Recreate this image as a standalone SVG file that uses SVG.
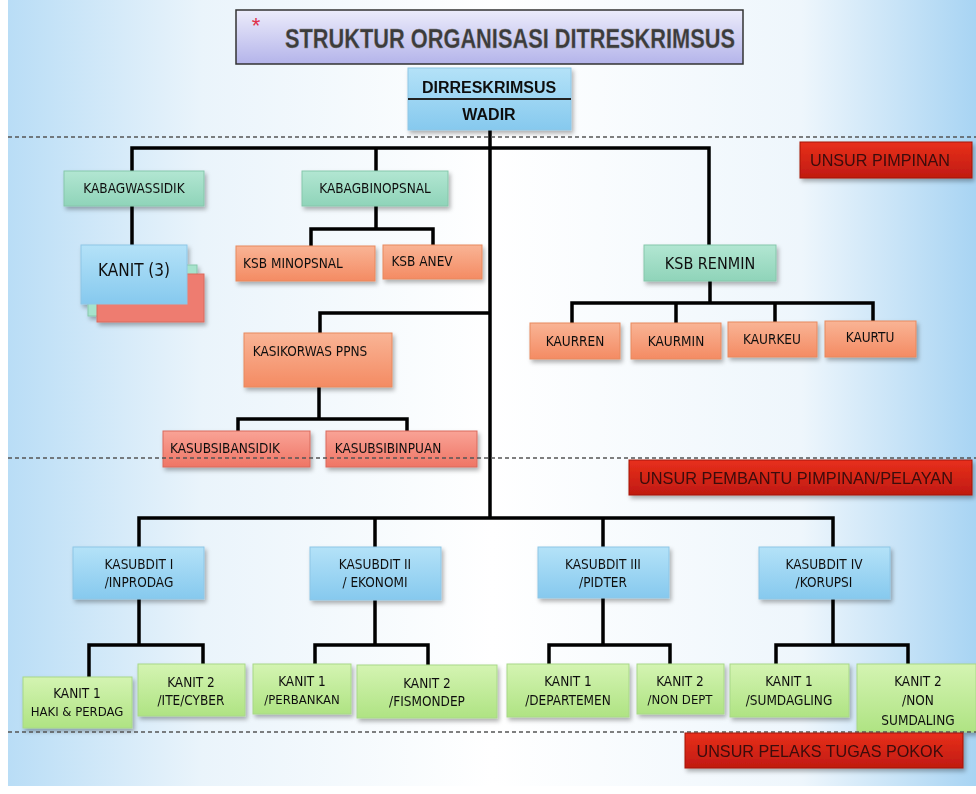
<svg xmlns="http://www.w3.org/2000/svg" width="976" height="794" viewBox="0 0 976 794">
<defs>
<linearGradient id="bg" x1="0" y1="0" x2="1" y2="0">
<stop offset="0" stop-color="#b9ddf6"/>
<stop offset="0.2" stop-color="#eaf4fb"/>
<stop offset="0.5" stop-color="#ffffff"/>
<stop offset="0.82" stop-color="#eef6fc"/>
<stop offset="1" stop-color="#a8d4f3"/>
</linearGradient>
<linearGradient id="gTitle" x1="0" y1="0" x2="0" y2="1">
<stop offset="0" stop-color="#ececfb"/>
<stop offset="1" stop-color="#b4b4ea"/>
</linearGradient>
<linearGradient id="gBlue" x1="0" y1="0" x2="0" y2="1">
<stop offset="0" stop-color="#b4e2f8"/>
<stop offset="1" stop-color="#86c9ee"/>
</linearGradient>
<linearGradient id="gTeal" x1="0" y1="0" x2="0" y2="1">
<stop offset="0" stop-color="#b2e6d2"/>
<stop offset="1" stop-color="#8fd4b9"/>
</linearGradient>
<linearGradient id="gOrange" x1="0" y1="0" x2="0" y2="1">
<stop offset="0" stop-color="#f9b495"/>
<stop offset="1" stop-color="#f48b63"/>
</linearGradient>
<linearGradient id="gPink" x1="0" y1="0" x2="0" y2="1">
<stop offset="0" stop-color="#f9a396"/>
<stop offset="1" stop-color="#ef7565"/>
</linearGradient>
<linearGradient id="gLime" x1="0" y1="0" x2="0" y2="1">
<stop offset="0" stop-color="#d4f4b2"/>
<stop offset="1" stop-color="#afe383"/>
</linearGradient>
<linearGradient id="gRed" x1="0" y1="0" x2="0" y2="1">
<stop offset="0" stop-color="#e8301c"/>
<stop offset="1" stop-color="#c01a10"/>
</linearGradient>
<filter id="sh" x="-10%" y="-10%" width="130%" height="140%">
<feDropShadow dx="2" dy="3" stdDeviation="2" flood-color="#000" flood-opacity="0.3"/>
</filter>
</defs>
<style>
text{font-family:"DejaVu Sans Condensed","DejaVu Sans","Liberation Sans",sans-serif;font-stretch:condensed;fill:#111;text-anchor:middle}
.lbl{font-size:13.5px}
.big{font-size:16px}
.sm{font-size:13px}
.blue{fill:url(#gBlue);stroke:#8ec6e6;stroke-width:1}
.teal{fill:url(#gTeal);stroke:#86c7ab;stroke-width:1}
.orange{fill:url(#gOrange);stroke:#e8895f;stroke-width:1}
.pink{fill:url(#gPink);stroke:#d96a5c;stroke-width:1}
.lime{fill:url(#gLime);stroke:#a8d888;stroke-width:1}
.red{fill:url(#gRed);stroke:#a51208;stroke-width:1}
.box{filter:url(#sh)}
.unsur{font-family:"Liberation Sans",Arial,sans-serif;font-stretch:normal;font-size:17px;fill:#3a0c08}
.con{fill:none;stroke:#000;stroke-width:3.5;stroke-linejoin:miter}
.dash{stroke:#555;stroke-width:1.5;stroke-dasharray:4 3}
</style>
<rect x="0" y="0" width="976" height="794" fill="#ffffff"/>
<rect x="8" y="0" width="968" height="786" fill="url(#bg)"/>

<g id="connectors">
<path class="con" d="M490 130 V518"/>
<path class="con" d="M132 206 V148 H709 V245"/>
<path class="con" d="M376 148 V171"/>
<path class="con" d="M132 206 V245"/>
<path class="con" d="M376 206 V229 M311 246 V229 H433 V245"/>
<path class="con" d="M320 333 V313 H490"/>
<path class="con" d="M319 387 V419 M238 431 V419 H407 V431"/>
<path class="con" d="M710 281 V303 M572 323 V303 H873 V321 M676 303 V323 M775 303 V322"/>
<path class="con" d="M139 547 V518 H833 V547 M375 518 V547 M603 518 V547"/>
<path class="con" d="M139 599 V645 M89 677 V645 H203 V664"/>
<path class="con" d="M375 600 V645 M315 664 V645 H428 V665"/>
<path class="con" d="M603 598 V645 M549 664 V645 H670 V664"/>
<path class="con" d="M833 599 V645 M776 664 V645 H908 V664"/>
</g>

<g id="title">
<rect x="236" y="10" width="507" height="54" fill="url(#gTitle)" stroke="#333" stroke-width="1.5"/>
<text x="256" y="33" style="font-family:'Liberation Sans',sans-serif;font-size:22px;fill:#e0304a">*</text>
<text x="510" y="48" textLength="450" lengthAdjust="spacingAndGlyphs" style="font-family:'Liberation Sans',sans-serif;font-stretch:normal;font-size:27px;font-weight:bold;fill:#3c3c3c;stroke:#888;stroke-width:0.3">STRUKTUR ORGANISASI DITRESKRIMSUS</text>
</g>

<g id="n-dir" class="box">
<rect class="blue" x="408" y="68" width="163" height="62"/>
<line x1="408" y1="99" x2="571" y2="99" stroke="#222" stroke-width="2"/>
<text x="489" y="93" style="font-family:'Liberation Sans',sans-serif;font-stretch:normal;font-size:16px;font-weight:bold">DIRRESKRIMSUS</text>
<text x="489" y="120" style="font-family:'Liberation Sans',sans-serif;font-stretch:normal;font-size:16px;font-weight:bold">WADIR</text>
</g>

<line class="dash" x1="8" y1="137" x2="976" y2="137"/>

<g id="unsur-pimpinan" class="box">
<rect class="red" x="800" y="142" width="172" height="36"/>
<text class="unsur" x="880" y="166" textLength="140" lengthAdjust="spacingAndGlyphs">UNSUR PIMPINAN</text>
</g>

<g id="n-kabagwassidik" class="box">
<rect class="teal" x="64" y="171" width="140" height="35"/>
<text class="lbl" x="134" y="193">KABAGWASSIDIK</text>
</g>
<g id="n-kabagbinopsnal" class="box">
<rect class="teal" x="302" y="171" width="146" height="35"/>
<text class="lbl" x="375" y="193">KABAGBINOPSNAL</text>
</g>

<g id="n-kanit3" class="box">
<rect x="88" y="265" width="109" height="51" fill="#a6e3cc" stroke="#86c7ab"/>
<rect x="97" y="274" width="107" height="48" fill="#ee7c70" stroke="#d96a5c"/>
<rect class="blue" x="81" y="245" width="106" height="59"/>
<text x="134" y="276" style="font-size:17px">KANIT (3)</text>
</g>

<g id="n-ksbminopsnal" class="box">
<rect class="orange" x="236" y="246" width="139" height="35"/>
<text class="lbl" x="293" y="268">KSB MINOPSNAL</text>
</g>
<g id="n-ksbanev" class="box">
<rect class="orange" x="383" y="245" width="99" height="34"/>
<text class="lbl" x="422" y="266">KSB ANEV</text>
</g>

<g id="n-ksbrenmin" class="box">
<rect class="teal" x="644" y="245" width="132" height="36"/>
<text class="big" x="710" y="269">KSB RENMIN</text>
</g>

<g id="n-kaurren" class="box">
<rect class="orange" x="530" y="323" width="90" height="36"/>
<text class="lbl" x="575" y="346">KAURREN</text>
</g>
<g id="n-kaurmin" class="box">
<rect class="orange" x="631" y="323" width="90" height="36"/>
<text class="lbl" x="676" y="346">KAURMIN</text>
</g>
<g id="n-kaurkeu" class="box">
<rect class="orange" x="728" y="322" width="89" height="35"/>
<text class="lbl" x="772" y="344">KAURKEU</text>
</g>
<g id="n-kaurtu" class="box">
<rect class="orange" x="825" y="321" width="91" height="36"/>
<text class="lbl" x="870" y="342">KAURTU</text>
</g>

<g id="n-kasikorwas" class="box">
<rect class="orange" x="244" y="333" width="148" height="54"/>
<text class="lbl" x="310" y="356">KASIKORWAS PPNS</text>
</g>

<g id="n-kasubsibansidik" class="box">
<rect class="pink" x="163" y="431" width="147" height="36"/>
<text class="lbl" x="225" y="453">KASUBSIBANSIDIK</text>
</g>
<g id="n-kasubsibinpuan" class="box">
<rect class="pink" x="326" y="431" width="151" height="36"/>
<text class="lbl" x="388" y="453">KASUBSIBINPUAN</text>
</g>

<line class="dash" x1="8" y1="458" x2="976" y2="458"/>

<g id="unsur-pembantu" class="box">
<rect class="red" x="629" y="460" width="343" height="35"/>
<text class="unsur" x="796" y="484" textLength="314" lengthAdjust="spacingAndGlyphs">UNSUR PEMBANTU PIMPINAN/PELAYAN</text>
</g>

<g id="n-kasubdit1" class="box">
<rect class="blue" x="73" y="547" width="131" height="52"/>
<text class="lbl" x="139" y="569">KASUBDIT I</text>
<text class="lbl" x="139" y="587">/INPRODAG</text>
</g>
<g id="n-kasubdit2" class="box">
<rect class="blue" x="310" y="547" width="131" height="53"/>
<text class="lbl" x="375" y="569">KASUBDIT II</text>
<text class="lbl" x="375" y="587">/ EKONOMI</text>
</g>
<g id="n-kasubdit3" class="box">
<rect class="blue" x="538" y="547" width="131" height="51"/>
<text class="lbl" x="603" y="569">KASUBDIT III</text>
<text class="lbl" x="603" y="587">/PIDTER</text>
</g>
<g id="n-kasubdit4" class="box">
<rect class="blue" x="759" y="547" width="131" height="52"/>
<text class="lbl" x="824" y="569">KASUBDIT IV</text>
<text class="lbl" x="824" y="587">/KORUPSI</text>
</g>

<g id="n-kanit1-haki" class="box">
<rect class="lime" x="23" y="677" width="109" height="51"/>
<text class="lbl" x="77" y="698">KANIT 1</text>
<text class="sm" x="77" y="716">HAKI &amp; PERDAG</text>
</g>
<g id="n-kanit2-ite" class="box">
<rect class="lime" x="138" y="664" width="107" height="52"/>
<text class="lbl" x="191" y="687">KANIT 2</text>
<text class="lbl" x="191" y="705">/ITE/CYBER</text>
</g>
<g id="n-kanit1-perbankan" class="box">
<rect class="lime" x="253" y="664" width="98" height="50"/>
<text class="lbl" x="302" y="686">KANIT 1</text>
<text class="sm" x="302" y="704">/PERBANKAN</text>
</g>
<g id="n-kanit2-fismondep" class="box">
<rect class="lime" x="357" y="665" width="140" height="53"/>
<text class="lbl" x="427" y="688">KANIT 2</text>
<text class="lbl" x="427" y="706">/FISMONDEP</text>
</g>
<g id="n-kanit1-departemen" class="box">
<rect class="lime" x="507" y="664" width="122" height="53"/>
<text class="lbl" x="568" y="686">KANIT 1</text>
<text class="lbl" x="568" y="705">/DEPARTEMEN</text>
</g>
<g id="n-kanit2-nondept" class="box">
<rect class="lime" x="637" y="664" width="87" height="50"/>
<text class="lbl" x="680" y="686">KANIT 2</text>
<text class="sm" x="680" y="704">/NON DEPT</text>
</g>
<g id="n-kanit1-sumdagling" class="box">
<rect class="lime" x="730" y="664" width="119" height="53"/>
<text class="lbl" x="789" y="686">KANIT 1</text>
<text class="lbl" x="789" y="705">/SUMDAGLING</text>
</g>
<g id="n-kanit2-nonsumdaling" class="box">
<rect class="lime" x="857" y="664" width="119" height="68"/>
<text class="lbl" x="918" y="686">KANIT 2</text>
<text class="lbl" x="918" y="705">/NON</text>
<text class="lbl" x="918" y="725">SUMDALING</text>
</g>

<line class="dash" x1="8" y1="732" x2="976" y2="732"/>

<g id="unsur-pelaks" class="box">
<rect class="red" x="685" y="733" width="278" height="35"/>
<text class="unsur" x="820" y="757" textLength="247" lengthAdjust="spacingAndGlyphs">UNSUR PELAKS TUGAS POKOK</text>
</g>
</svg>
